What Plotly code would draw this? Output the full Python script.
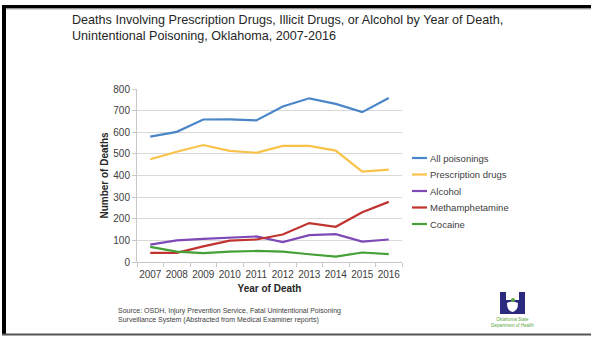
import plotly.graph_objects as go

years = ["2007", "2008", "2009", "2010", "2011", "2012", "2013", "2014", "2015", "2016"]
all_poisonings = [580, 602, 659, 660, 655, 719, 757, 731, 693, 758]
prescription = [475, 510, 541, 514, 505, 537, 537, 515, 418, 427]
alcohol = [80, 100, 107, 113, 118, 92, 124, 129, 94, 104]
meth = [42, 42, 72, 99, 104, 127, 180, 163, 230, 278]
cocaine = [70, 48, 41, 48, 51, 48, 36, 25, 44, 36]

series_names = ["All poisonings", "Prescription drugs", "Alcohol", "Methamphetamine", "Cocaine"]
series_values = [all_poisonings, prescription, alcohol, meth, cocaine]
series_colors = ["#4A86C8", "#F9C34A", "#7E4AB8", "#C0332E", "#44A037"]

W, H = 591, 337
L, R, T, B = 137, 189, 89, 75
PW, PH = W - L - R, H - T - B


def px(x):
    return (x - L) / PW


def py(y):
    return (H - B - y) / PH


fig = go.Figure()
for name, vals, col in zip(series_names, series_values, series_colors):
    fig.add_trace(go.Scatter(x=years, y=vals, mode="lines", name=name,
                             line=dict(color=col, width=2.2), showlegend=False))

fig.update_layout(
    width=W, height=H,
    margin=dict(l=L, r=R, t=T, b=B),
    paper_bgcolor="white", plot_bgcolor="white",
    font=dict(family="Liberation Sans, Arial, sans-serif", color="#404040", size=10),
    showlegend=False,
)

fig.update_xaxes(type="category", range=[-0.5, len(years) - 0.5], showgrid=False, showline=True,
                 linecolor="#C8C8C8", linewidth=1, ticks="outside", tickson="boundaries", ticklen=4,
                 tickangle=0, tickcolor="#C8C8C8", tickfont=dict(size=10, color="#404040"),
                 ticklabelstandoff=3,
                 title=dict(text="<b>Year of Death</b>", font=dict(size=10, color="#262626"), standoff=5))
fig.update_yaxes(range=[0, 800], dtick=100, showgrid=True, gridcolor="#D9D9D9", gridwidth=1,
                 showline=True, linecolor="#C8C8C8", ticks="outside", ticklen=4,
                 tickcolor="#C8C8C8", tickfont=dict(size=10, color="#404040"), zeroline=False,
                 title=dict(text="<b>Number of Deaths</b>", font=dict(size=10, color="#262626"), standoff=2))

# Manual legend
shapes = []
leg_y0, leg_dy = 158, 16.5
for i, (name, col) in enumerate(zip(series_names, series_colors)):
    yy = leg_y0 + i * leg_dy
    shapes.append(dict(type="line", xref="paper", yref="paper", x0=px(412), x1=px(427),
                       y0=py(yy), y1=py(yy), line=dict(color=col, width=2.2)))
    fig.add_annotation(xref="paper", yref="paper", x=px(427.5), y=py(yy), xanchor="left", yanchor="middle",
                       text=name, showarrow=False, font=dict(size=9.5, color="#404040"))

# Title
fig.add_annotation(xref="paper", yref="paper", x=px(70), y=py(11), xanchor="left", yanchor="top",
                   text="Deaths Involving Prescription Drugs, Illicit Drugs, or Alcohol by Year of Death,<br>Unintentional Poisoning, Oklahoma, 2007-2016",
                   showarrow=False, align="left", font=dict(size=12.6, color="#262626"))

# Source
fig.add_annotation(xref="paper", yref="paper", x=px(116), y=py(305), xanchor="left", yanchor="top",
                   text="Source: OSDH, Injury Prevention Service, Fatal Unintentional Poisoning<br>Surveillance System (Abstracted from Medical Examiner reports)",
                   showarrow=False, align="left", font=dict(size=7, color="#404040"))

# Logo text
fig.add_annotation(xref="paper", yref="paper", x=px(512.5), y=py(315), xanchor="center", yanchor="top",
                   text="Oklahoma State<br>Department of Health", showarrow=False, align="center",
                   font=dict(size=4.5, color="#5AA83C"))

navy = "#2B2A7E"
hpath = (f"M {px(500)} {py(292)} L {px(506)} {py(292)} L {px(506)} {py(300)} L {px(519)} {py(300)} "
         f"L {px(519)} {py(292)} L {px(525)} {py(292)} L {px(525)} {py(314)} L {px(500)} {py(314)} Z")
shapes.append(dict(type="path", xref="paper", yref="paper", path=hpath, fillcolor=navy, line=dict(width=0)))
shapes.append(dict(type="path", xref="paper", yref="paper",
                   path=(f"M {px(507)} {py(303)} Q {px(512.5)} {py(300)} {px(518)} {py(303)} "
                         f"Q {px(518)} {py(311)} {px(512.5)} {py(312)} Q {px(507)} {py(311)} {px(507)} {py(303)} Z"),
                   fillcolor="white", line=dict(width=0)))
shapes.append(dict(type="circle", xref="paper", yref="paper", x0=px(511), x1=px(515), y0=py(302), y1=py(298),
                   fillcolor="#5AA83C", line=dict(width=0)))

# Frame borders
shapes.append(dict(type="rect", xref="paper", yref="paper", x0=px(2), x1=px(592), y0=py(8.5), y1=py(5),
                   fillcolor="black", line=dict(width=0)))
shapes.append(dict(type="rect", xref="paper", yref="paper", x0=px(2), x1=px(592), y0=py(9.5), y1=py(8.5),
                   fillcolor="#B0B0B0", line=dict(width=0)))
shapes.append(dict(type="rect", xref="paper", yref="paper", x0=px(2), x1=px(6), y0=py(335), y1=py(5),
                   fillcolor="black", line=dict(width=0)))
shapes.append(dict(type="rect", xref="paper", yref="paper", x0=px(2), x1=px(592), y0=py(335.5), y1=py(333.5),
                   fillcolor="#555555", line=dict(width=0)))
fig.update_layout(shapes=shapes)

fig.write_html("out.html")
